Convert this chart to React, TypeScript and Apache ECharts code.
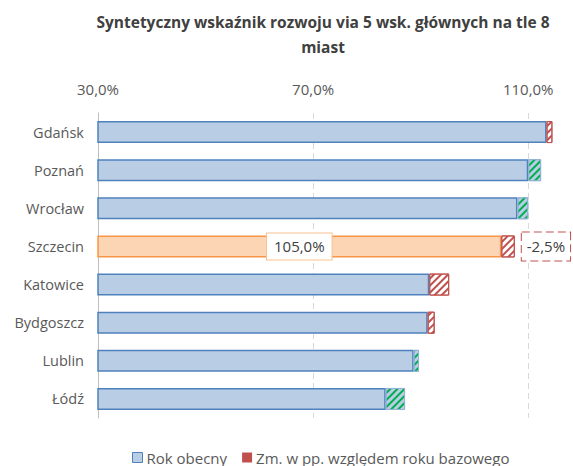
import React, { useEffect, useRef } from "react";
import * as echarts from "echarts";

const cities = ["Gdańsk", "Poznań", "Wrocław", "Szczecin", "Katowice", "Bydgoszcz", "Lublin", "Łódź"];
const rokObecny = [113.4, 112.4, 110.0, 105.0, 91.6, 91.3, 89.7, 87.1];
const zmiana = [-1.1, 2.4, 2.0, -2.5, -3.7, -1.3, 1.0, 3.6];
const highlightedCity = "Szczecin";
const xMin = 30;
const xMax = 116;
const xInterval = 40;

const fmt = (v: number) => v.toFixed(1).replace(".", ",") + "%";

const BLUE_FILL = "#B9CDE5";
const BLUE_BORDER = "#4F81BD";
const ORANGE_FILL = "#FCD5B5";
const ORANGE_BORDER = "#F79646";
const RED = "#C0504D";
const GREEN = "#00B050";
const FONT = "'Open Sans', sans-serif";

export default function App() {
  const ref = useRef<HTMLDivElement>(null);
  useEffect(() => {
    document.body.style.margin = "0";
    const chart = echarts.init(ref.current!, null, { renderer: "svg" });
    const stripe = (color: string) => ({
      symbol: "rect",
      symbolSize: 1,
      dashArrayX: [1, 0],
      dashArrayY: [2, 3],
      rotation: -Math.PI / 4,
      color,
    });
    const baseData = cities.map((c, i) => {
      const base = zmiana[i] > 0 ? rokObecny[i] - zmiana[i] : rokObecny[i];
      const hl = c === highlightedCity;
      return {
        value: +base.toFixed(2),
        itemStyle: hl
          ? { color: ORANGE_FILL, borderColor: ORANGE_BORDER, borderWidth: 1.5 }
          : { color: BLUE_FILL, borderColor: BLUE_BORDER, borderWidth: 1.5 },
        label: hl
          ? {
              show: true,
              position: "inside",
              formatter: () => fmt(rokObecny[i]),
              color: "#404040",
              fontSize: 15,
              fontFamily: FONT,
              backgroundColor: "#fff",
              borderColor: "#FAC090",
              borderWidth: 1,
              padding: [6, 7, 5, 7],
            }
          : { show: false },
      };
    });
    const changeData = cities.map((c, i) => {
      const neg = zmiana[i] < 0;
      const hl = c === highlightedCity;
      return {
        value: Math.abs(zmiana[i]),
        itemStyle: neg
          ? { color: "#fff", borderColor: RED, borderWidth: 1, decal: stripe(RED) }
          : { color: BLUE_FILL, borderColor: "#95B3D7", borderWidth: 1, decal: stripe(GREEN) },
        label: hl
          ? {
              show: true,
              position: "right",
              distance: 7,
              formatter: () => fmt(zmiana[i]),
              color: "#404040",
              fontSize: 15,
              fontFamily: FONT,
              backgroundColor: "#fff",
              borderColor: RED,
              borderWidth: 1,
              borderType: "dashed",
              padding: [7, 5, 6, 5],
            }
          : { show: false },
      };
    });
    chart.setOption({
      animation: false,
      title: {
        text: "Syntetyczny wskaźnik rozwoju via 5 wsk. głównych na tle 8\nmiast",
        left: 318,
        top: 4,
        textAlign: "center",
        textStyle: { fontSize: 15.5, fontWeight: "bold", color: "#404040", fontFamily: FONT, lineHeight: 25 },
      },
      grid: { left: 98, right: 12.5, top: 113, bottom: 48, containLabel: false },
      legend: {
        top: 445,
        left: 127,
        icon: "rect",
        itemWidth: 10,
        itemHeight: 10,
        itemGap: 15,
        textStyle: { fontSize: 15, color: "#595959", fontFamily: FONT, padding: [0, 0, 0, -1] },
        data: [
          { name: "Rok obecny", itemStyle: { color: BLUE_FILL, borderColor: BLUE_BORDER, borderWidth: 1 } },
          { name: "Zm. w pp. względem roku bazowego", itemStyle: { color: RED, borderWidth: 0 } },
        ],
      },
      xAxis: {
        type: "value",
        position: "top",
        min: xMin,
        max: xMax,
        interval: xInterval,
        axisLine: { show: false },
        axisTick: { show: false },
        axisLabel: { formatter: (v: number) => fmt(v), color: "#595959", fontSize: 15, fontFamily: FONT, margin: 17, showMaxLabel: false },
        splitLine: { show: true, showMinLine: false, showMaxLine: false, lineStyle: { color: "#D9D9D9", type: [6, 4], width: 1 } },
      },
      yAxis: {
        type: "category",
        inverse: true,
        data: cities,
        axisLine: { show: true, lineStyle: { color: "#BFBFBF", width: 1 } },
        axisTick: { show: false },
        axisLabel: { color: "#595959", fontSize: 14.5, fontFamily: FONT, margin: 14 },
      },
      series: [
        { name: "Rok obecny", type: "bar", stack: "s", barWidth: 22, data: baseData, itemStyle: { color: BLUE_FILL } },
        {
          name: "Zm. w pp. względem roku bazowego",
          type: "bar",
          stack: "s",
          barWidth: 22,
          data: changeData,
          itemStyle: { color: RED },
        },
      ],
    });
    return () => chart.dispose();
  }, []);
  return <div ref={ref} style={{ width: 573, height: 466 }} />;
}
